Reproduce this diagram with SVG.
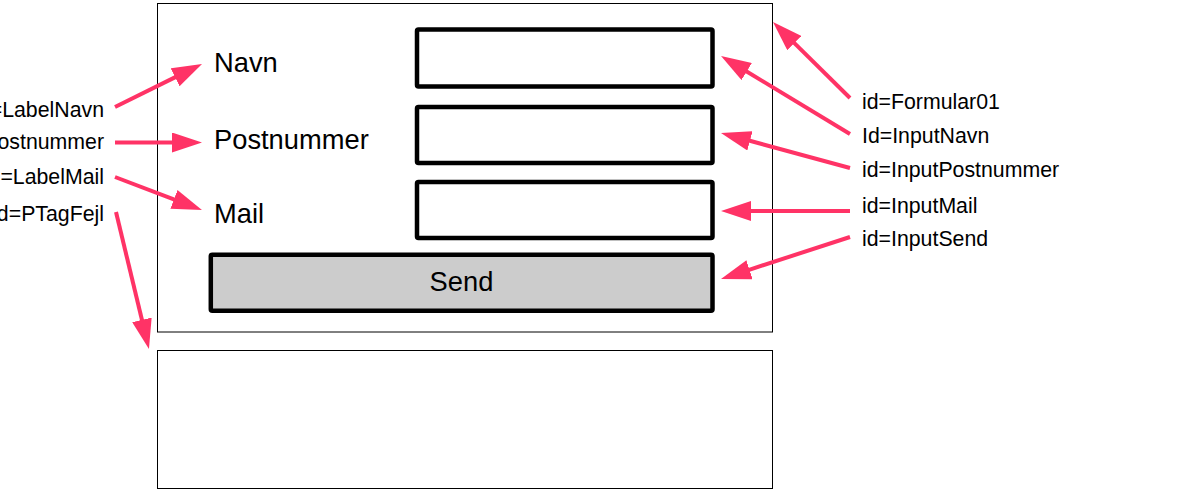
<svg xmlns="http://www.w3.org/2000/svg" width="1178" height="499" viewBox="0 0 1178 499">
<style>
.frame{fill:#fff;stroke:#000;stroke-width:1}
.inp{fill:#fff;stroke:#000;stroke-width:4.5}
.btn{fill:#ccc;stroke:#000;stroke-width:4.5}
.lbl{font-family:"Liberation Sans",Arial,sans-serif;font-size:27.3px;fill:#000}
.ann{font-family:"Liberation Sans",Arial,sans-serif;font-size:21.3px;fill:#000}
.arr{stroke:#ff3366;stroke-width:4;fill:none;marker-end:url(#ah)}
</style>
<defs>
<marker id="ah" markerUnits="userSpaceOnUse" markerWidth="30" markerHeight="20" refX="2" refY="10" orient="auto" viewBox="0 0 30 20">
<path d="M0,0 L30,10 L0,20 z" fill="#ff3366"/>
</marker>
</defs>
<rect width="1178" height="499" fill="#fff"/>
<g id="Formular01">
<rect class="frame" x="157.5" y="3.5" width="615" height="328.5"/>
</g>
<g id="PTagFejl">
<rect class="frame" x="157.5" y="350.5" width="615" height="138"/>
</g>
<g id="LabelNavn"><text class="lbl" x="214" y="72">Navn</text></g>
<g id="LabelPostnummer"><text class="lbl" x="214" y="149">Postnummer</text></g>
<g id="LabelMail"><text class="lbl" x="214" y="223">Mail</text></g>
<g id="InputNavn"><rect class="inp" x="417" y="29.5" width="295.5" height="57" rx="1.5"/></g>
<g id="InputPostnummer"><rect class="inp" x="417" y="107" width="295.5" height="56" rx="1.5"/></g>
<g id="InputMail"><rect class="inp" x="417" y="182" width="295.5" height="56" rx="1.5"/></g>
<g id="InputSend">
<rect class="btn" x="210.8" y="254.8" width="501.7" height="56" rx="1.5"/>
<text class="lbl" x="461.5" y="290.5" text-anchor="middle">Send</text>
</g>
<g id="annotations-left">
<text class="ann" x="104" y="116.5" text-anchor="end">id=LabelNavn</text>
<text class="ann" x="104" y="149" text-anchor="end">id=LabelPostnummer</text>
<text class="ann" x="104" y="184" text-anchor="end">id=LabelMail</text>
<text class="ann" x="104" y="220.5" text-anchor="end">id=PTagFejl</text>
</g>
<g id="annotations-right">
<text class="ann" x="862" y="108.5">id=Formular01</text>
<text class="ann" x="862" y="142.5">Id=InputNavn</text>
<text class="ann" x="862" y="176.5">id=InputPostnummer</text>
<text class="ann" x="862" y="213">id=InputMail</text>
<text class="ann" x="862" y="246">id=InputSend</text>
</g>
<g id="connectors">
<line class="arr" x1="115" y1="107" x2="176.9" y2="76.4"/>
<line class="arr" x1="115" y1="142.5" x2="174" y2="142.5"/>
<line class="arr" x1="115" y1="177" x2="175.8" y2="200.1"/>
<line class="arr" x1="116" y1="212" x2="142.4" y2="321.8"/>
<line class="arr" x1="850" y1="98" x2="792.9" y2="41.7"/>
<line class="arr" x1="850" y1="134" x2="745" y2="70.5"/>
<line class="arr" x1="850" y1="168" x2="748" y2="140.3"/>
<line class="arr" x1="850" y1="211" x2="749" y2="211"/>
<line class="arr" x1="850" y1="237" x2="747.6" y2="270.3"/>
</g>
</svg>
